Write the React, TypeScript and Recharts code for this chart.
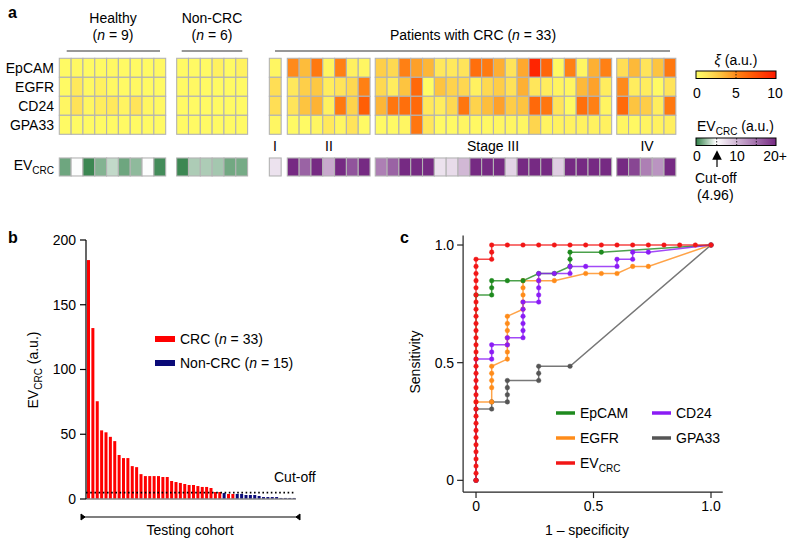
import React from 'react';
import {
  ScatterChart, Scatter, XAxis, YAxis, BarChart, Bar, LineChart, Line, ReferenceLine,
} from 'recharts';

// ---------------- Panel a data ----------------
const markers = ['EpCAM', 'EGFR', 'CD24', 'GPA33'];
// sample groups, in display order: Healthy, Non-CRC, Stage I, II, III, IV
const groupSizes = [9, 6, 1, 7, 20, 5];

const epcamXi = [
  0.3, 0.4, 0.3, 0.3, 0.4, 0.3, 0.3, 0.3, 0.4,
  0.3, 0.3, 0.3, 0.8, 0.3, 0.7,
  0.5,
  5.0, 3.3, 5.6, 0.5, 5.3, 0.8, 0.5,
  2.5, 2.0, 5.3, 4.3, 3.5, 1.3, 1.2, 1.5, 6.0, 5.5, 3.8, 1.5, 4.0, 9.5, 6.5, 0.3, 5.3, 0.5, 3.7, 5.3,
  1.8, 3.4, 1.5, 3.0, 5.6,
];
const egfrXi = [
  0.3, 1.2, 0.4, 0.8, 0.4, 0.3, 0.4, 0.3, 0.3,
  0.3, 0.4, 0.3, 0.3, 0.3, 0.3,
  1.8,
  1.3, 2.5, 2.8, 1.0, 1.5, 2.0, 5.3,
  2.0, 1.0, 3.0, 6.3, 0.1, 3.0, 2.3, 2.1, 0.8, 2.0, 2.6, 1.6, 3.7, 1.4, 1.0, 0.6, 0.5, 3.4, 4.2, 1.0,
  5.0, 1.0, 1.0, 0.3, 1.5,
];
const cd24Xi = [
  0.5, 1.6, 0.5, 1.0, 1.2, 0.6, 1.5, 0.5, 0.4,
  0.3, 0.3, 0.3, 0.3, 0.3, 0.3,
  1.8,
  1.5, 3.0, 3.6, 0.8, 5.6, 2.3, 6.8,
  3.5, 5.7, 6.0, 6.3, 1.3, 1.0, 2.0, 5.7, 2.3, 3.2, 4.3, 2.6, 3.0, 6.3, 5.7, 1.5, 0.3, 6.0, 5.3, 0.6,
  6.3, 3.0, 2.6, 1.0, 5.6,
];
const gpa33Xi = [
  0.3, 0.3, 0.3, 0.3, 0.3, 0.3, 0.3, 0.3, 0.3,
  0.3, 0.3, 0.3, 0.3, 0.3, 0.3,
  0.5,
  0.3, 0.3, 0.5, 1.2, 0.5, 1.5, 0.3,
  0.3, 0.3, 0.5, 5.7, 1.4, 0.3, 0.3, 0.5, 0.4, 0.4, 0.5, 0.5, 0.5, 2.2, 0.6, 0.7, 0.7, 0.7, 0.7, 0.8,
  0.5, 0.4, 0.6, 0.7, 0.9,
];
const evCrcValues = [
  1.5, 4.9, 0.3, 2.0, 3.5, 1.5, 2.3, 4.9, 0.5,
  0.3, 3.0, 3.0, 2.8, 1.6, 1.7,
  7,
  20, 16, 20, 11, 20, 17, 20,
  14, 16, 20, 20, 20, 7, 7.5, 10, 20, 20, 20, 8, 20, 20, 20, 8.5, 20, 20, 20, 20,
  20, 18, 14, 12.5, 20,
];
const xiRows = [epcamXi, egfrXi, cd24Xi, gpa33Xi];

// ---------------- Panel b data ----------------
const testValues = [
  184.5, 132, 75.5, 53, 51.5, 48, 44.7, 34, 31.6, 31.6, 25.4, 24.6, 19.2, 17.7, 17.7, 17.7,
  17.7, 17, 17, 13.9, 13.1, 12.4, 11.6, 10.8, 10.8, 10, 9.3, 9.3, 8.5, 5.4, 5.4, 4.6,
  3.9, 3.9, 3.9, 3.9, 3.1, 3.1, 3.1, 2.3, 1.5, 1.5, 1.5, 1.5, 0.8, 0.8, 0.8, 0.8,
];
const testIsCrc = [
  1, 1, 1, 1, 1, 1, 1, 1, 1, 1, 1, 1, 1, 1, 1, 1,
  1, 1, 1, 1, 1, 1, 1, 1, 1, 1, 1, 1, 1, 1, 1, 0,
  1, 1, 0, 0, 0, 0, 0, 0, 0, 0, 0, 0, 0, 0, 0, 0,
];
const cutOff = 4.96;
const barTicks = [0, 50, 100, 150, 200];

// ---------------- Panel c data (false positives of 15, true positives of 33) ----------------
const nNeg = 15;
const nPos = 33;
const rocEv = [
  [0, 0], [0, 1], [0, 2], [0, 3], [0, 4], [0, 5], [0, 6], [0, 7], [0, 8], [0, 9], [0, 10],
  [0, 11], [0, 12], [0, 13], [0, 14], [0, 15], [0, 16], [0, 17], [0, 18], [0, 19], [0, 20],
  [0, 21], [0, 22], [0, 23], [0, 24], [0, 25], [0, 26], [0, 27], [0, 28], [0, 29], [0, 30],
  [0, 31], [1, 31], [1, 32], [1, 33], [2, 33], [3, 33], [4, 33], [5, 33], [6, 33], [7, 33],
  [8, 33], [9, 33], [10, 33], [11, 33], [12, 33], [13, 33], [14, 33], [15, 33],
];
const rocEpcam = [
  [0, 0], [0, 26], [1, 26], [1, 27], [1, 28], [2, 28], [3, 28], [4, 29], [5, 29], [6, 30],
  [6, 31], [6, 32], [8, 32], [15, 33],
];
const rocEgfr = [
  [0, 0], [0, 11], [1, 11], [1, 13], [1, 14], [1, 15], [1, 16], [2, 17], [2, 18], [2, 19],
  [2, 20], [2, 21], [2, 22], [2, 23], [3, 24], [3, 25], [3, 26], [3, 27], [3, 28], [4, 28],
  [5, 28], [7, 29], [8, 29], [9, 29], [10, 30], [11, 30], [15, 33],
];
const rocCd24 = [
  [0, 0], [0, 17], [1, 17], [1, 18], [1, 19], [2, 19], [2, 20], [3, 20], [3, 21], [3, 22],
  [3, 23], [3, 24], [3, 25], [4, 25], [4, 26], [4, 27], [4, 28], [4, 29], [5, 29], [6, 29],
  [6, 30], [7, 30], [9, 30], [9, 31], [10, 31], [10, 32], [11, 32], [15, 33],
];
const rocGpa33 = [
  [0, 0], [0, 10], [1, 10], [1, 11], [2, 11], [2, 12], [2, 13], [2, 14], [4, 14], [4, 15],
  [4, 16], [6, 16], [15, 33],
];
const rocTicks = [0, 0.5, 1];

// ---------------- styles / layout ----------------
const FONT = '"Liberation Sans", Arial, Helvetica, sans-serif';
const xiStops: [number, string][] = [
  [0, '#FFFF66'], [1.5, '#FFE45A'], [3, '#FDC440'], [4.5, '#FE9A25'], [5.5, '#FF7A10'], [7, '#FF5A05'], [10, '#FF1A00'],
];
const evStops: [number, string][] = [[0, '#2F7F47'], [cutOff, '#FFFFFF'], [20, '#762A83']];
const GROUP_GAPS = [0, 0.93, 1.84, 0.52, 0.44, 0.43]; // gap before each group, in cell units
const CELL_W = 11.82;
const CELL_H = 19;
const EV_H = 18;
const EV_ROW_Y = 5.72;
const COLORS = {
  EpCAM: '#1E8A1E', EGFR: '#FF8C1A', CD24: '#8B1CF5', GPA33: '#555555', EV: '#F21616',
};

function hexToRgb(h: string) {
  const n = parseInt(h.slice(1), 16);
  return [(n >> 16) & 255, (n >> 8) & 255, n & 255];
}
function scaleColor(stops: [number, string][], v: number) {
  const max = stops[stops.length - 1][0];
  const x = Math.max(stops[0][0], Math.min(max, v));
  for (let i = 1; i < stops.length; i++) {
    if (x <= stops[i][0]) {
      const [a, ca] = stops[i - 1];
      const [b, cb] = stops[i];
      const t = (x - a) / (b - a);
      const A = hexToRgb(ca);
      const B = hexToRgb(cb);
      const c = A.map((q, k) => Math.round(q + (B[k] - q) * t));
      return `rgb(${c[0]},${c[1]},${c[2]})`;
    }
  }
  return stops[stops.length - 1][1];
}

// column centres (cell units) for each sample
const colCenters: number[] = [];
let cursor = 0;
groupSizes.forEach((n, g) => {
  cursor += GROUP_GAPS[g];
  for (let i = 0; i < n; i++) colCenters.push(cursor + i + 0.5);
  cursor += n;
});
const heatWidthUnits = cursor;

const heatCells: any[] = [];
xiRows.forEach((row, r) => {
  row.forEach((v, s) => heatCells.push({ x: colCenters[s], y: r + 0.5, fill: scaleColor(xiStops, v), h: CELL_H }));
});
evCrcValues.forEach((v, s) => heatCells.push({ x: colCenters[s], y: EV_ROW_Y, fill: scaleColor(evStops, v), h: EV_H }));

const CellShape = (props: any) => {
  const { cx, cy, payload } = props;
  if (cx == null || cy == null) return null;
  return (
    <rect x={cx - CELL_W / 2} y={cy - payload.h / 2} width={CELL_W} height={payload.h}
      fill={payload.fill} stroke="#b3b3b3" strokeWidth={1.1} />
  );
};

const barData = testValues.map((v, i) => ({
  i, crc: testIsCrc[i] ? v : null, non: testIsCrc[i] ? null : v,
}));

const toRoc = (arr: number[][]) => arr.map(([a, b]) => ({ x: a / nNeg, y: b / nPos }));
const rocSeries = [
  { key: 'GPA33', data: toRoc(rocGpa33) },
  { key: 'EGFR', data: toRoc(rocEgfr) },
  { key: 'EpCAM', data: toRoc(rocEpcam) },
  { key: 'CD24', data: toRoc(rocCd24) },
  { key: 'EV', data: toRoc(rocEv) },
];

const tickStyle = { fill: '#000', fontSize: 14, fontFamily: FONT };

const EvLabel = ({ x, y, anchor = 'start', size = 14 }: any) => (
  <text x={x} y={y} textAnchor={anchor} fontSize={size}>
    EV<tspan fontSize={size * 0.72} dy={4}>CRC</tspan>
  </text>
);

export default function App() {
  const stageLabels = [
    { t: 'I', x: 275 }, { t: 'II', x: 329 }, { t: 'Stage III', x: 493 }, { t: 'IV', x: 647 },
  ];
  const xiGradStops = xiStops.map(([v, c]) => ({ o: v / 10, c }));
  const evGradStops = evStops.map(([v, c]) => ({ o: v / 20, c }));
  return (
    <div style={{ position: 'absolute', left: 0, top: 0, width: 793, height: 543, background: '#fff', fontFamily: FONT, overflow: 'hidden' }}>
      {/* Panel a heatmap */}
      <div style={{ position: 'absolute', left: 0, top: 0 }}>
        <ScatterChart width={690} height={190} margin={{ top: 58.3, left: 59.3, right: 690 - 59.3 - heatWidthUnits * CELL_W, bottom: 190 - 58.3 - 6.2 * CELL_H }}>
          <XAxis type="number" dataKey="x" domain={[0, heatWidthUnits]} hide />
          <YAxis type="number" dataKey="y" domain={[0, 6.2]} reversed hide />
          <Scatter data={heatCells} shape={CellShape} isAnimationActive={false} />
        </ScatterChart>
      </div>

      {/* Panel b bars */}
      <div style={{ position: 'absolute', left: 0, top: 225 }}>
        <BarChart width={310} height={290} data={barData} margin={{ top: 15, right: 14, left: 26, bottom: 16 }} barSize={3}>
          <XAxis dataKey="i" hide />
          <YAxis domain={[0, 200]} ticks={barTicks} width={60} tick={tickStyle} tickSize={6} tickMargin={4}
            axisLine={{ stroke: '#000', strokeWidth: 1.2 }} tickLine={{ stroke: '#000', strokeWidth: 1.2 }} interval={0} />
          <ReferenceLine y={0} stroke="#8a8a8a" strokeWidth={1.3} />
          <Bar dataKey="crc" stackId="s" fill="#FF0000" isAnimationActive={false} />
          <Bar dataKey="non" stackId="s" fill="#0A0A78" isAnimationActive={false} />
          <ReferenceLine y={cutOff} stroke="#000" strokeWidth={1.6} strokeDasharray="1.6 2.6" />
        </BarChart>
      </div>

      {/* Panel c ROC */}
      <div style={{ position: 'absolute', left: 400, top: 225 }}>
        <LineChart width={340} height={318} margin={{ top: 10.6, right: 17.25, left: 23.1, bottom: 20.9 }}>
          <XAxis type="number" dataKey="x" domain={[-0.055, 1.05]} ticks={rocTicks} interval={0} height={30}
            tickFormatter={(v: number) => (v === 0 ? '0' : v.toFixed(1))} tick={tickStyle} tickSize={6} tickMargin={3}
            axisLine={{ stroke: '#222', strokeWidth: 1.2 }} tickLine={{ stroke: '#222', strokeWidth: 1.2 }} allowDataOverflow />
          <YAxis type="number" dataKey="y" domain={[-0.05, 1.04]} ticks={rocTicks} interval={0} width={40}
            tickFormatter={(v: number) => (v === 0 ? '0' : v.toFixed(1))} tick={tickStyle} tickSize={6} tickMargin={3}
            axisLine={{ stroke: '#222', strokeWidth: 1.2 }} tickLine={{ stroke: '#222', strokeWidth: 1.2 }} allowDataOverflow />
          {rocSeries.map((s) => {
            const c = (COLORS as any)[s.key];
            return (
              <Line key={s.key} data={s.data} dataKey="y" type="linear" stroke={c} strokeWidth={1.5} strokeOpacity={0.8}
                dot={{ r: 2.3, fill: c, stroke: c, strokeWidth: 0.5 }} activeDot={false} isAnimationActive={false} />
            );
          })}
        </LineChart>
      </div>

      {/* Annotations */}
      <svg width={793} height={543} style={{ position: 'absolute', left: 0, top: 0, pointerEvents: 'none' }} fontFamily={FONT}>
        <defs>
          <linearGradient id="xiGrad" x1="0" x2="1" y1="0" y2="0">
            {xiGradStops.map((s, i) => <stop key={i} offset={s.o} stopColor={s.c} />)}
          </linearGradient>
          <linearGradient id="evGrad" x1="0" x2="1" y1="0" y2="0">
            {evGradStops.map((s, i) => <stop key={i} offset={s.o} stopColor={s.c} />)}
          </linearGradient>
          <marker id="arrowHead" markerWidth="8" markerHeight="8" refX="4" refY="4" orient="auto">
            <path d="M0,0 L8,4 L0,8 z" fill="#000" />
          </marker>
        </defs>

        {/* panel letters */}
        <text x={8} y={18} fontSize={16} fontWeight="bold">a</text>
        <text x={8} y={243} fontSize={16} fontWeight="bold">b</text>
        <text x={400} y={243} fontSize={16} fontWeight="bold">c</text>

        {/* panel a headers */}
        <text x={113} y={23} fontSize={14} textAnchor="middle">Healthy</text>
        <text x={113} y={40} fontSize={14} textAnchor="middle">(<tspan fontStyle="italic">n</tspan> = 9)</text>
        <line x1={66.7} x2={160} y1={51} y2={51} stroke="#333" strokeWidth={1.2} />
        <text x={212} y={23} fontSize={14} textAnchor="middle">Non-CRC</text>
        <text x={212} y={40} fontSize={14} textAnchor="middle">(<tspan fontStyle="italic">n</tspan> = 6)</text>
        <line x1={181.7} x2={242.3} y1={51} y2={51} stroke="#333" strokeWidth={1.2} />
        <text x={473} y={40} fontSize={14} textAnchor="middle">Patients with CRC (<tspan fontStyle="italic">n</tspan> = 33)</text>
        <line x1={275} x2={670} y1={51} y2={51} stroke="#333" strokeWidth={1.2} />

        {markers.map((m, r) => (
          <text key={m} x={54} y={58.3 + CELL_H * (r + 0.5) + 5} fontSize={14} textAnchor="end">{m}</text>
        ))}
        <text x={54} y={170} fontSize={14} textAnchor="end">EV<tspan fontSize={10} dy={4}>CRC</tspan></text>
        {stageLabels.map((s) => (
          <text key={s.t} x={s.x} y={151} fontSize={14} textAnchor="middle">{s.t}</text>
        ))}

        {/* xi legend */}
        <text x={736} y={65} fontSize={14} textAnchor="middle"><tspan fontStyle="italic">ξ</tspan> (a.u.)</text>
        <rect x={696} y={71} width={80} height={7.5} fill="url(#xiGrad)" stroke="#000" strokeWidth={1} />
        <line x1={736} x2={736} y1={71} y2={78.5} stroke="#000" strokeWidth={0.8} strokeDasharray="1.5 1.5" />
        <text x={697} y={98} fontSize={14} textAnchor="middle">0</text>
        <text x={736} y={98} fontSize={14} textAnchor="middle">5</text>
        <text x={775} y={98} fontSize={14} textAnchor="middle">10</text>

        {/* EV legend */}
        <text x={697} y={131} fontSize={14}>EV<tspan fontSize={10} dy={4}>CRC</tspan><tspan dy={-4}> (a.u.)</tspan></text>
        <rect x={696} y={138} width={80} height={7.5} fill="url(#evGrad)" stroke="#000" strokeWidth={1} />
        {[716.7, 736.7, 756.3].map((x) => (
          <line key={x} x1={x} x2={x} y1={138} y2={145.5} stroke="#000" strokeWidth={0.8} strokeDasharray="1.5 1.5" />
        ))}
        <text x={697} y={161} fontSize={14} textAnchor="middle">0</text>
        <text x={737} y={161} fontSize={14} textAnchor="middle">10</text>
        <text x={775} y={161} fontSize={14} textAnchor="middle">20+</text>
        <line x1={717} x2={717} y1={167} y2={155} stroke="#000" strokeWidth={1.2} markerEnd="url(#arrowHead)" />
        <text x={695} y={183} fontSize={14}>Cut-off</text>
        <text x={697} y={200} fontSize={14}>(4.96)</text>

        {/* panel b annotations */}
        <text transform="translate(38,370) rotate(-90)" fontSize={14} textAnchor="middle">
          EV<tspan fontSize={10} dy={4}>CRC</tspan><tspan dy={-4}> (a.u.)</tspan>
        </text>
        <rect x={155} y={336} width={20} height={6} fill="#FF0000" />
        <text x={180} y={344} fontSize={14}>CRC (<tspan fontStyle="italic">n</tspan> = 33)</text>
        <rect x={155} y={360} width={20} height={6} fill="#0A0A78" />
        <text x={180} y={368} fontSize={14}>Non-CRC (<tspan fontStyle="italic">n</tspan> = 15)</text>
        <text x={274} y={482} fontSize={14}>Cut-off</text>
        <line x1={81} x2={300} y1={517} y2={517} stroke="#000" strokeWidth={1.2} />
        <path d="M81,514 L81,520 L85,517 z" fill="#000" stroke="#000" strokeWidth={1} />
        <path d="M300,514 L300,520 L296,517 z" fill="#000" stroke="#000" strokeWidth={1} />
        <text x={190} y={535} fontSize={14} textAnchor="middle">Testing cohort</text>

        {/* panel c annotations */}
        <text transform="translate(420,362) rotate(-90)" fontSize={14} textAnchor="middle">Sensitivity</text>
        <text x={587} y={535} fontSize={14} textAnchor="middle">1 – specificity</text>
        {[
          { k: 'EpCAM', x: 556, y: 413 }, { k: 'CD24', x: 652, y: 413 },
          { k: 'EGFR', x: 556, y: 438 }, { k: 'GPA33', x: 652, y: 438 },
          { k: 'EV', x: 556, y: 463 },
        ].map((l) => (
          <g key={l.k}>
            <line x1={l.x} x2={l.x + 19} y1={l.y} y2={l.y} stroke={(COLORS as any)[l.k]} strokeWidth={3.5} />
            {l.k === 'EV'
              ? <text x={l.x + 24} y={l.y + 5} fontSize={14}>EV<tspan fontSize={10} dy={4}>CRC</tspan></text>
              : <text x={l.x + 24} y={l.y + 5} fontSize={14}>{l.k}</text>}
          </g>
        ))}
      </svg>
    </div>
  );
}
